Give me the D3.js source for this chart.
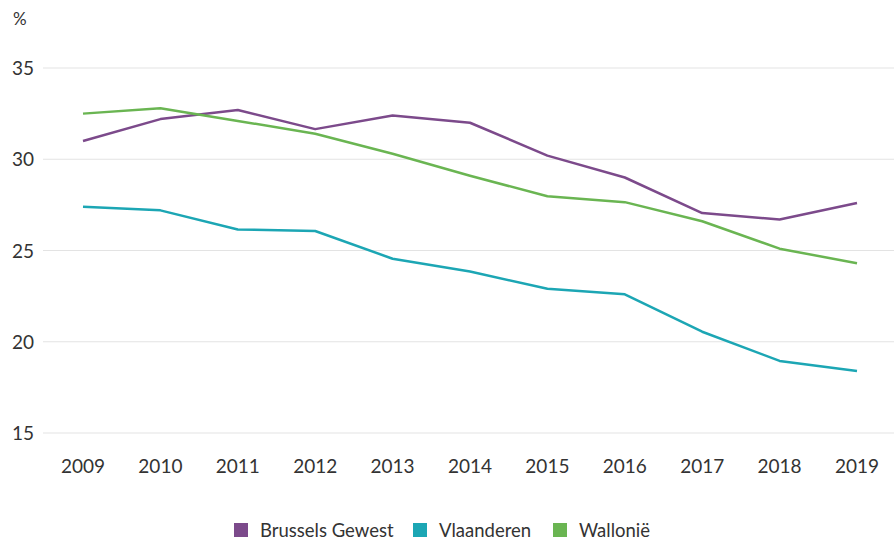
<!DOCTYPE html>
<html>
<head>
<meta charset="utf-8">
<script src="https://cdn.jsdelivr.net/npm/d3@7"></script>
<style>
  body { margin: 0; background: #fff; }
  text { font-family: Lato, "Open Sans", sans-serif; }
</style>
</head>
<body>
<script>
const years = [2009, 2010, 2011, 2012, 2013, 2014, 2015, 2016, 2017, 2018, 2019]
const brussels = [31.0, 32.2, 32.7, 31.65, 32.4, 32.0, 30.2, 29.0, 27.05, 26.7, 27.6]
const vlaanderen = [27.4, 27.2, 26.15, 26.07, 24.55, 23.85, 22.9, 22.6, 20.55, 18.95, 18.4]
const wallonie = [32.5, 32.8, 32.1, 31.4, 30.3, 29.1, 27.97, 27.65, 26.6, 25.1, 24.3]
const yTicks = [15, 20, 25, 30, 35]

const series = [
    { name: 'Brussels Gewest', values: brussels, color: '#7c4a8b' },
    { name: 'Vlaanderen', values: vlaanderen, color: '#1ca6b4' },
    { name: 'Wallonië', values: wallonie, color: '#6ab552' }
]

const WIDTH = 894
const HEIGHT = 541

const svg = d3.select('body').append('svg')
    .attr('width', WIDTH)
    .attr('height', HEIGHT)

const x = d3.scaleLinear()
    .domain([2009, 2019])
    .range([83, 857])

const y = d3.scaleLinear()
    .domain([15, 35])
    .range([433, 68])

// gridlines
svg.append('g')
    .selectAll('line')
    .data(yTicks)
    .join('line')
        .attr('x1', 43)
        .attr('x2', WIDTH)
        .attr('y1', d => y(d))
        .attr('y2', d => y(d))
        .attr('stroke', '#e3e3e3')
        .attr('stroke-width', 1.2)

svg.append('g')
    .selectAll('text')
    .data(yTicks)
    .join('text')
        .attr('x', 12)
        .attr('y', d => y(d) + 7)
        .attr('font-size', 19)
        .attr('fill', '#333')
        .text(d => d)

svg.append('text')
    .attr('x', 13)
    .attr('y', 25)
    .attr('font-size', 17)
    .attr('fill', '#333')
    .text('%')

svg.append('g')
    .selectAll('text')
    .data(years)
    .join('text')
        .attr('x', d => x(d))
        .attr('y', 473)
        .attr('text-anchor', 'middle')
        .attr('font-size', 19)
        .attr('fill', '#333')
        .text(d => d)

const line = d3.line()
    .x((d, i) => x(years[i]))
    .y(d => y(d))

svg.append('g')
    .selectAll('path')
    .data(series)
    .join('path')
        .attr('d', d => line(d.values))
        .attr('fill', 'none')
        .attr('stroke', d => d.color)
        .attr('stroke-width', 2.5)
        .attr('stroke-linejoin', 'round')

// legend
const legendX = [234, 413, 553]
const legend = svg.append('g')
    .selectAll('g')
    .data(series)
    .join('g')
        .attr('transform', (d, i) => `translate(${legendX[i]},523)`)

legend.append('rect')
    .attr('width', 14)
    .attr('height', 14)
    .attr('fill', d => d.color)

legend.append('text')
    .attr('x', 26)
    .attr('y', 14)
    .attr('font-size', 18.5)
    .attr('fill', '#333')
    .text(d => d.name)
</script>
</body>
</html>
